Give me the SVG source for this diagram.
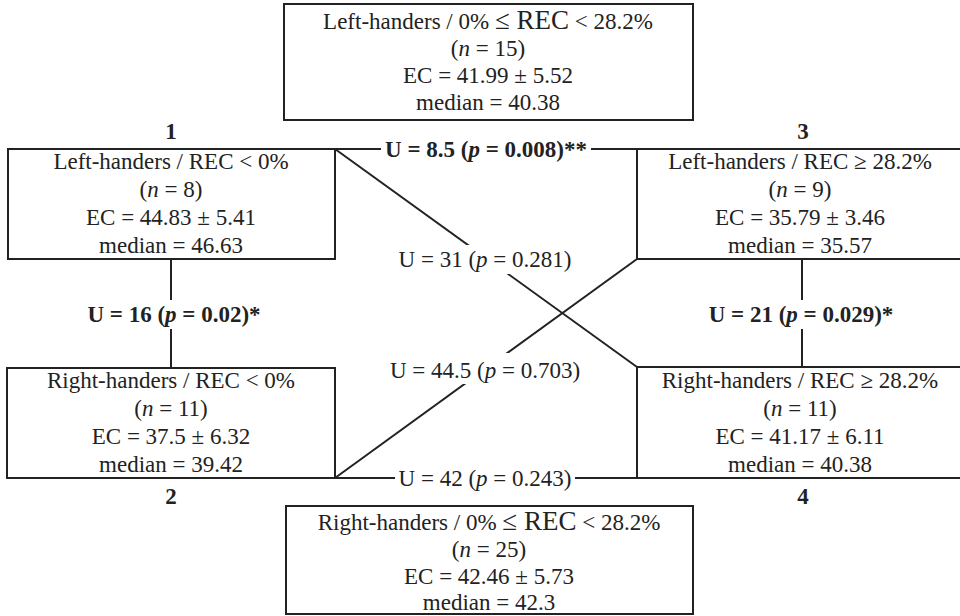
<svg xmlns="http://www.w3.org/2000/svg" width="960" height="616" viewBox="0 0 960 616">
<style>
text{font-family:"Liberation Serif","Times New Roman",serif;font-size:23px;fill:#222;text-anchor:middle}
.b{font-weight:bold}
.box{fill:none;stroke:#222;stroke-width:2}
.ln{stroke:#222;stroke-width:2;fill:none}
.bg{fill:#fff;stroke:none}
.big{font-size:27px}
</style>
<rect width="960" height="616" fill="#fff"/>
<g id="connectors">
<line class="ln" x1="335" y1="149" x2="637" y2="149"/>
<line class="ln" x1="335" y1="149" x2="637" y2="367"/>
<line class="ln" x1="335" y1="478" x2="637" y2="259"/>
<line class="ln" x1="335" y1="478" x2="637" y2="478"/>
<line class="ln" x1="171" y1="259" x2="171" y2="368"/>
<line class="ln" x1="802" y1="259" x2="802" y2="367"/>
<rect class="bg" x="381" y="137" width="210" height="25"/>
<text class="b" x="486" y="157">U = 8.5 (<tspan font-style="italic">p</tspan> = 0.008)**</text>
<rect class="bg" x="395" y="245" width="181" height="29"/>
<text x="485" y="267">U = 31 (<tspan font-style="italic">p</tspan> = 0.281)</text>
<rect class="bg" x="388" y="353" width="194" height="31"/>
<text x="485" y="378">U = 44.5 (<tspan font-style="italic">p</tspan> = 0.703)</text>
<rect class="bg" x="395" y="467" width="180" height="24"/>
<text x="485" y="486">U = 42 (<tspan font-style="italic">p</tspan> = 0.243)</text>
<rect class="bg" x="82" y="300" width="184" height="29"/>
<text class="b" x="174" y="322">U = 16 (<tspan font-style="italic">p</tspan> = 0.02)*</text>
<rect class="bg" x="707" y="300" width="189" height="29"/>
<text class="b" x="801" y="322">U = 21 (<tspan font-style="italic">p</tspan> = 0.029)*</text>
</g>
<g id="node-top">
<rect class="box" x="284" y="4" width="409" height="116"/>
<text x="488" y="29">Left-handers / 0% <tspan class="big">≤ REC</tspan> &lt; 28.2%</text>
<text x="488" y="56">(<tspan font-style="italic">n</tspan> = 15)</text>
<text x="488" y="83">EC = 41.99 ± 5.52</text>
<text x="488" y="110">median = 40.38</text>
</g>
<g id="node-1">
<text class="b" x="171" y="139">1</text>
<rect class="box" x="8" y="149" width="327" height="110"/>
<text x="171" y="169">Left-handers / REC &lt; 0%</text>
<text x="171" y="197">(<tspan font-style="italic">n</tspan> = 8)</text>
<text x="171" y="225">EC = 44.83 ± 5.41</text>
<text x="171" y="253">median = 46.63</text>
</g>
<g id="node-2">
<rect class="box" x="7" y="368" width="328" height="110"/>
<text x="171" y="388">Right-handers / REC &lt; 0%</text>
<text x="171" y="416">(<tspan font-style="italic">n</tspan> = 11)</text>
<text x="171" y="444">EC = 37.5 ± 6.32</text>
<text x="171" y="472">median = 39.42</text>
<text class="b" x="171" y="504">2</text>
</g>
<g id="node-3">
<text class="b" x="803" y="139">3</text>
<rect class="box" x="637" y="149" width="330" height="110"/>
<text x="800" y="169">Left-handers / REC ≥ 28.2%</text>
<text x="800" y="197">(<tspan font-style="italic">n</tspan> = 9)</text>
<text x="800" y="225">EC = 35.79 ± 3.46</text>
<text x="800" y="253">median = 35.57</text>
</g>
<g id="node-4">
<rect class="box" x="637" y="367" width="330" height="111"/>
<text x="800" y="388">Right-handers / REC ≥ 28.2%</text>
<text x="800" y="416">(<tspan font-style="italic">n</tspan> = 11)</text>
<text x="800" y="444">EC = 41.17 ± 6.11</text>
<text x="800" y="472">median = 40.38</text>
<text class="b" x="803" y="504">4</text>
</g>
<g id="node-bottom">
<rect class="box" x="286" y="506" width="407" height="108"/>
<text x="489" y="530">Right-handers / 0% <tspan class="big">≤ REC</tspan> &lt; 28.2%</text>
<text x="489" y="557">(<tspan font-style="italic">n</tspan> = 25)</text>
<text x="489" y="584">EC = 42.46 ± 5.73</text>
<text x="489" y="610">median = 42.3</text>
</g>
</svg>
